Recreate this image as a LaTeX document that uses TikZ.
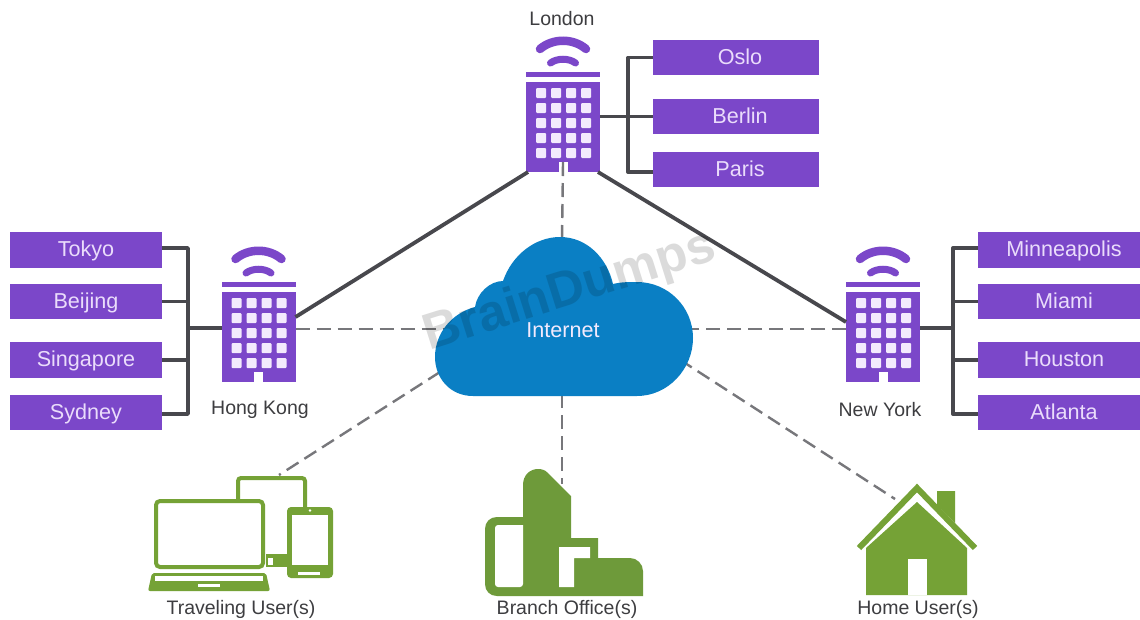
\documentclass[tikz,border=0pt]{standalone}
\usepackage{fontspec}
\setmainfont{Liberation Sans}
\definecolor{plum}{HTML}{7B47C9}
\definecolor{lilac}{HTML}{EADCFB}
\definecolor{leaf}{HTML}{75A236}
\definecolor{leafdark}{HTML}{6E9A3A}
\definecolor{sky}{HTML}{0A7FC4}
\definecolor{wire}{HTML}{48484D}
\definecolor{dashwire}{HTML}{77777B}
\definecolor{ink}{HTML}{3D3D40}
\tikzset{
  x=1pt,y=-1pt,
  citybox/.style={fill=plum,draw=none,inner sep=0,outer sep=0,minimum height=35.5pt,text=lilac,text height=15pt,text depth=2pt,font=\fontsize{21.6}{24}\selectfont},
  leftcity/.style={citybox,minimum width=152pt},
  rightcity/.style={citybox,minimum width=162pt,execute at begin node={\hspace*{10pt}}},
  midcity/.style={citybox,minimum width=166pt,execute at begin node={\hspace*{8pt}}},
  towerbody/.style={fill=plum,draw=none,inner sep=0,outer sep=0,minimum width=74pt,minimum height=90pt},
  caption/.style={text=ink,inner sep=0,font=\fontsize{19.5}{22}\selectfont},
  iconcaption/.style={text=ink,inner sep=0,font=\fontsize{19.5}{22}\selectfont},
  trunk/.style={draw=wire,line width=3.8pt},
  branchline/.style={draw=wire,line width=3.4pt,line join=round},
  netlink/.style={draw=dashwire,line width=2.4pt,dash pattern=on 14pt off 7pt},
  towerdetail/.pic={
    \fill[plum] (-37,-55) rectangle (37,-50);
    \foreach \c in {-27,-12,3,18}{
      \foreach \r in {-39,-24,-9,6,21}{
        \fill[lilac!60!white,rounded corners=1pt] (\c,\r) rectangle ++(10,10);
      }
    }
    \fill[white] (-4.5,35) rectangle (4.5,45);
    \draw[plum,line width=8.5pt,line cap=round] (-23,-78) .. controls (-10,-89) and (10,-89) .. (23,-78);
    \draw[plum,line width=7pt,line cap=round] (-12.5,-64) .. controls (-6,-69) and (6,-69) .. (12.5,-64);
  }
}
\begin{document}
\begin{tikzpicture}
\useasboundingbox (0,0) rectangle (1140,619);
\fill[white] (0,0) rectangle (1140,619);

% city boxes
\node[midcity] (oslo) at (736,57.5) {Oslo};
\node[midcity] (berlin) at (736,116.5) {Berlin};
\node[midcity] (paris) at (736,169.5) {Paris};
\node[leftcity] (tokyo) at (86,250) {Tokyo};
\node[leftcity] (beijing) at (86,301.5) {Beijing};
\node[leftcity] (singapore) at (86,360) {Singapore};
\node[leftcity] (sydney) at (86,412.5) {Sydney};
\node[rightcity] (minneapolis) at (1059,250) {Minneapolis};
\node[rightcity] (miami) at (1059,301.5) {Miami};
\node[rightcity] (houston) at (1059,360) {Houston};
\node[rightcity] (atlanta) at (1059,412.5) {Atlanta};

% towers
\node[towerbody] (london) at (563,127) {};
\node[towerbody] (hongkong) at (258.5,337) {};
\node[towerbody] (newyork) at (883,337) {};
\pic at (london) {towerdetail};
\pic at (hongkong) {towerdetail};
\pic at (newyork) {towerdetail};

\node[caption] (londonlabel) at (562,19) {London};
\node[caption] (hklabel) at (260,410) {Hong Kong};
\node[caption] (nylabel) at (880,410) {New York};

% junctions and free ends
\coordinate (lonbus) at (628,116.5);
\coordinate (hkbus) at (188,328);
\coordinate (nybus) at (953,328);
\coordinate (cloudT) at (562,240);
\coordinate (cloudB) at (562,394);
\coordinate (cloudL) at (445,329);
\coordinate (cloudR) at (685,329);
\coordinate (cloudSW) at (440,372);
\coordinate (cloudSE) at (685,363);
\coordinate (travelpt) at (279,475);
\coordinate (branchpt) at (562,484);
\coordinate (homept) at (895,499);

% bus connectors
\draw[branchline] (berlin.west) -- (berlin.west -| london.east);
\draw[branchline] (oslo.west) -| (lonbus);
\draw[branchline] ([yshift=-2.5pt]paris.west) -| (lonbus);
\draw[branchline] (hkbus) -- (hkbus -| hongkong.west);
\draw[branchline] ([yshift=2pt]tokyo.east) -| (hkbus);
\draw[branchline] (beijing.east) -| (hkbus);
\draw[branchline] (singapore.east) -| (hkbus);
\draw[branchline] ([yshift=-1.5pt]sydney.east) -| (hkbus);
\draw[branchline] (nybus) -- (nybus -| newyork.east);
\draw[branchline] ([yshift=2pt]minneapolis.west) -| (nybus);
\draw[branchline] (miami.west) -| (nybus);
\draw[branchline] (houston.west) -| (nybus);
\draw[branchline] ([yshift=-1.5pt]atlanta.west) -| (nybus);

% trunks
\draw[trunk] ([xshift=2pt]london.south west) -- ([yshift=20pt]hongkong.east);
\draw[trunk] ([xshift=-2pt]london.south east) -- ([yshift=15pt]newyork.west);

% internet links
\draw[netlink] ([yshift=10pt]london.south) -- (cloudT);
\draw[netlink] ([yshift=8pt]hongkong.east) -- (cloudL);
\draw[netlink] ([yshift=8pt]newyork.west) -- (cloudR);
\draw[netlink] (cloudSW) -- (travelpt);
\draw[netlink] (cloudB) -- (branchpt);
\draw[netlink,dash phase=6pt] (cloudSE) -- (homept);

% cloud
\fill[sky] (473,396) .. controls (450,396) and (435,378) .. (435,357)
  .. controls (435,333) and (452,313) .. (475,307)
  .. controls (477,293) and (490,281) .. (503,281)
  .. controls (512,255) and (535,237) .. (560,237)
  .. controls (587,237) and (607,258) .. (613,284)
  .. controls (621,282) and (629,282) .. (637,282)
  .. controls (668,282) and (693,307) .. (693,338)
  .. controls (693,369) and (668,396) .. (637,396) -- cycle;
\node[text=lilac!60!white,inner sep=0,font=\fontsize{21.6}{24}\selectfont] (internet) at (563,330) {Internet};

% traveling users icon
\begin{scope}[leaf]
  \draw[line width=4pt,rounded corners=3pt] (238,499) -- (238,478) -- (305,478) -- (305,507);
  \fill (266,554) rectangle (289,567);
  \fill[white] (268,558) rectangle (273,565);
  \draw[line width=4pt,rounded corners=4pt,fill=white] (156,501) rectangle (263,567);
  \fill[rounded corners=2pt] (152,573) -- (266,573) -- (270,591) -- (148,591) -- cycle;
  \fill[white] (155,576) rectangle (263,581);
  \fill[white] (198,584) rectangle (220,587);
  \fill[rounded corners=4pt] (287,507) rectangle (333,578);
  \fill[white] (292,515) rectangle (328,565);
  \fill[white] (298,572) rectangle (320,575);
  \fill[white] (310,510.5) circle (1.3);
\end{scope}
\node[iconcaption] (travellabel) at (241,609) {Traveling User(s)};

% branch office icon
\begin{scope}[leafdark]
  \fill (523,485) .. controls (523,475) and (530,469) .. (538,469)
    .. controls (542,469) and (545,470) .. (548,473)
    -- (571,496) -- (571,538) -- (598,538) -- (598,558) -- (630,558)
    .. controls (637,558) and (643,564) .. (643,571)
    -- (643,596) -- (497,596)
    .. controls (490,596) and (485,591) .. (485,584)
    -- (485,529)
    .. controls (485,522) and (490,517) .. (497,517)
    -- (523,517) -- cycle;
  \fill[white,rounded corners=3pt] (523,525) -- (495,525) -- (495,587) -- (523,587) [sharp corners] -- cycle;
  \fill[white] (559,547) -- (590,547) -- (590,558) -- (574,558) -- (574,587) -- (559,587) -- cycle;
\end{scope}
\node[iconcaption] (branchlabel) at (567,609) {Branch Office(s)};

% home icon
\begin{scope}[leaf]
  \fill (937,491) -- (955,491) -- (955,523) -- (937,505) -- cycle;
  \fill (917,502) -- (967,548) -- (967,595) -- (866,595) -- (866,548) -- cycle;
  \fill[white] (908,559) rectangle (927,595);
  \draw[line width=6pt,line join=miter] (859,548) -- (917,488) -- (975,548);
\end{scope}
\node[iconcaption] (homelabel) at (918,609) {Home User(s)};

% watermark
\node[text=black,opacity=0.14,inner sep=0,rotate=17.5,font=\bfseries\fontsize{51}{54}\selectfont] (mark) at (570,292) {BrainDumps};
\end{tikzpicture}
\end{document}
